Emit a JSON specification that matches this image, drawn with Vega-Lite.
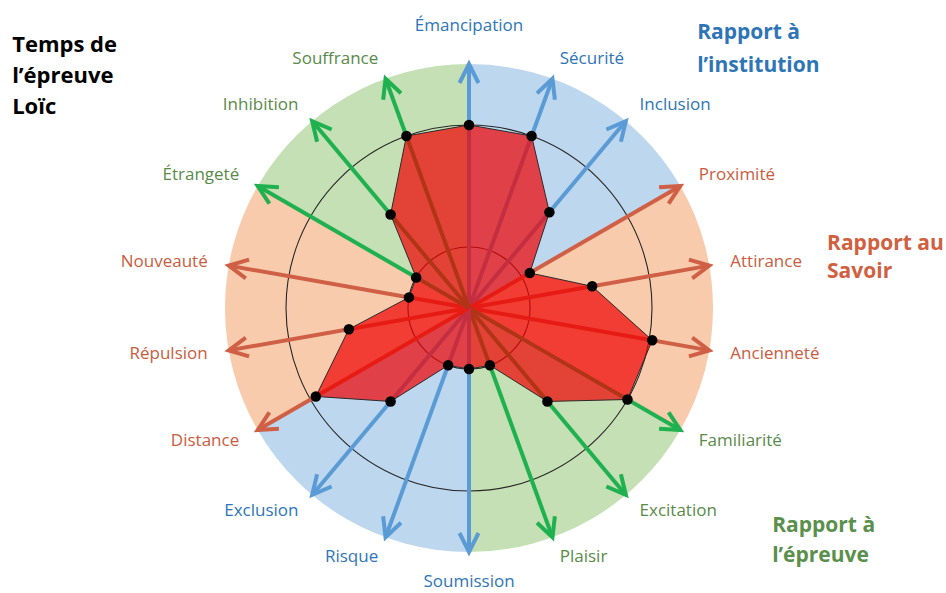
{
  "$schema": "https://vega.github.io/schema/vega-lite/v6.json",
  "width": 946,
  "height": 593,
  "autosize": {"type": "none"},
  "padding": 0,
  "background": "white",
  "config": {"view": {"stroke": null}, "text": {"font": "Open Sans"}},
  "datasets": {
    "axes": [
      {"name": "Émancipation", "angle": 0, "value": 3.0, "grp": "inst"},
      {"name": "Sécurité", "angle": 20, "value": 3.0, "grp": "inst"},
      {"name": "Inclusion", "angle": 40, "value": 2.05, "grp": "inst"},
      {"name": "Proximité", "angle": 60, "value": 1.15, "grp": "savoir"},
      {"name": "Attirance", "angle": 80, "value": 2.05, "grp": "savoir"},
      {"name": "Ancienneté", "angle": 100, "value": 3.05, "grp": "savoir"},
      {"name": "Familiarité", "angle": 120, "value": 3.0, "grp": "epreuve"},
      {"name": "Excitation", "angle": 140, "value": 2.0, "grp": "epreuve"},
      {"name": "Plaisir", "angle": 160, "value": 1.0, "grp": "epreuve"},
      {"name": "Soumission", "angle": 180, "value": 1.0, "grp": "inst"},
      {"name": "Risque", "angle": 200, "value": 1.0, "grp": "inst"},
      {"name": "Exclusion", "angle": 220, "value": 2.0, "grp": "inst"},
      {"name": "Distance", "angle": 240, "value": 2.9, "grp": "savoir"},
      {"name": "Répulsion", "angle": 260, "value": 2.0, "grp": "savoir"},
      {"name": "Nouveauté", "angle": 280, "value": 1.0, "grp": "savoir"},
      {"name": "Étrangeté", "angle": 300, "value": 1.0, "grp": "epreuve"},
      {"name": "Inhibition", "angle": 320, "value": 2.0, "grp": "epreuve"},
      {"name": "Souffrance", "angle": 340, "value": 3.0, "grp": "epreuve"}
    ],
    "sectors": [
      {"s": 1, "grp": "inst", "w": 1},
      {"s": 2, "grp": "savoir", "w": 1},
      {"s": 3, "grp": "epreuve", "w": 1},
      {"s": 4, "grp": "inst", "w": 1},
      {"s": 5, "grp": "savoir", "w": 1},
      {"s": 6, "grp": "epreuve", "w": 1}
    ],
    "rings": [{"r": 1}, {"r": 3}]
  },
  "resolve": {"scale": {"color": "independent", "fill": "independent"}},
  "layer": [
    {
      "data": {"name": "sectors"},
      "mark": {"type": "arc", "strokeWidth": 0},
      "encoding": {
        "x": {"datum": 0, "type": "quantitative", "scale": {"domain": [-7.689, 7.82], "nice": false, "zero": false}, "axis": null},
        "y": {"datum": 0, "type": "quantitative", "scale": {"domain": [-4.672, 5.049], "nice": false, "zero": false}, "axis": null},
        "theta": {"field": "w", "type": "quantitative", "stack": true},
        "order": {"field": "s", "type": "quantitative"},
        "radius": {"datum": 4, "type": "quantitative", "scale": {"type": "linear", "domain": [0, 4], "range": [0, 244], "zero": true}},
        "fill": {"field": "grp", "type": "nominal", "scale": {"domain": ["inst", "savoir", "epreuve"], "range": ["#bdd7ee", "#f8cbad", "#c5e0b4"]}, "legend": null}
      }
    },
    {
      "data": {"name": "rings"},
      "mark": {"type": "arc", "theta": 0, "theta2": 6.2832, "filled": false, "fill": null, "stroke": "#262626", "strokeWidth": 1.1},
      "encoding": {
        "x": {"datum": 0, "type": "quantitative"},
        "y": {"datum": 0, "type": "quantitative"},
        "radius": {"field": "r", "type": "quantitative", "stack": null, "scale": {"type": "linear", "domain": [0, 4], "range": [0, 244], "zero": true}}
      }
    },
    {
      "data": {"name": "axes"},
      "transform": [
        {"calculate": "0", "as": "cx"},
        {"calculate": "4*sin(datum.angle*PI/180)", "as": "tx"},
        {"calculate": "4*cos(datum.angle*PI/180)", "as": "ty"}
      ],
      "mark": {"type": "rule", "strokeWidth": 4},
      "encoding": {
        "x": {"field": "cx", "type": "quantitative"},
        "y": {"field": "cx", "type": "quantitative"},
        "x2": {"field": "tx"},
        "y2": {"field": "ty"},
        "color": {"field": "grp", "type": "nominal", "scale": {"domain": ["inst", "savoir", "epreuve"], "range": ["#5b9bd5", "#cf5f45", "#1fb04f"]}, "legend": null}
      }
    },
    {
      "data": {"name": "axes"},
      "transform": [
        {"calculate": "4*sin(datum.angle*PI/180)", "as": "tx"},
        {"calculate": "4*cos(datum.angle*PI/180)", "as": "ty"}
      ],
      "mark": {"type": "point", "shape": "M-0.5,1L0,0L0.5,1", "filled": false, "size": 1444, "strokeWidth": 4, "opacity": 1},
      "encoding": {
        "x": {"field": "tx", "type": "quantitative"},
        "y": {"field": "ty", "type": "quantitative"},
        "angle": {"field": "angle", "type": "quantitative", "scale": {"domain": [0, 360], "range": [0, 360]}},
        "color": {"field": "grp", "type": "nominal", "scale": {"domain": ["inst", "savoir", "epreuve"], "range": ["#5b9bd5", "#cf5f45", "#1fb04f"]}, "legend": null}
      }
    },
    {
      "data": {"name": "axes"},
      "transform": [
        {"calculate": "datum.value*sin(datum.angle*PI/180)", "as": "px"},
        {"calculate": "datum.value*cos(datum.angle*PI/180)", "as": "py"}
      ],
      "mark": {"type": "line", "interpolate": "linear-closed", "fill": "#f00000", "fillOpacity": 0.7, "stroke": "#2a2a2a", "strokeWidth": 1},
      "encoding": {
        "x": {"field": "px", "type": "quantitative"},
        "y": {"field": "py", "type": "quantitative"},
        "order": {"field": "angle", "type": "quantitative"}
      }
    },
    {
      "data": {"name": "axes"},
      "transform": [
        {"calculate": "datum.value*sin(datum.angle*PI/180)", "as": "px"},
        {"calculate": "datum.value*cos(datum.angle*PI/180)", "as": "py"}
      ],
      "mark": {"type": "point", "shape": "circle", "filled": true, "color": "#000000", "size": 110, "opacity": 1},
      "encoding": {
        "x": {"field": "px", "type": "quantitative"},
        "y": {"field": "py", "type": "quantitative"}
      }
    },
    {
      "data": {"name": "axes"},
      "transform": [
        {"filter": "datum.angle > 0 && datum.angle < 180"},
        {"calculate": "4.35*sin(datum.angle*PI/180)", "as": "lx"},
        {"calculate": "4.35*cos(datum.angle*PI/180)", "as": "ly"}
      ],
      "mark": {"type": "text", "align": "left", "baseline": "middle", "fontSize": 17},
      "encoding": {
        "x": {"field": "lx", "type": "quantitative"},
        "y": {"field": "ly", "type": "quantitative"},
        "text": {"field": "name"},
        "color": {"field": "grp", "type": "nominal", "scale": {"domain": ["inst", "savoir", "epreuve"], "range": ["#2e75b6", "#c95c40", "#5a8a4a"]}, "legend": null}
      }
    },
    {
      "data": {"name": "axes"},
      "transform": [
        {"filter": "datum.angle > 180"},
        {"calculate": "4.35*sin(datum.angle*PI/180)", "as": "lx"},
        {"calculate": "4.35*cos(datum.angle*PI/180)", "as": "ly"}
      ],
      "mark": {"type": "text", "align": "right", "baseline": "middle", "fontSize": 17},
      "encoding": {
        "x": {"field": "lx", "type": "quantitative"},
        "y": {"field": "ly", "type": "quantitative"},
        "text": {"field": "name"},
        "color": {"field": "grp", "type": "nominal", "scale": {"domain": ["inst", "savoir", "epreuve"], "range": ["#2e75b6", "#c95c40", "#5a8a4a"]}, "legend": null}
      }
    },
    {
      "data": {"name": "axes"},
      "transform": [
        {"filter": "datum.angle == 0"},
        {"calculate": "4.35*sin(datum.angle*PI/180)", "as": "lx"},
        {"calculate": "4.35*cos(datum.angle*PI/180)", "as": "ly"}
      ],
      "mark": {"type": "text", "align": "center", "baseline": "alphabetic", "dy": -12, "fontSize": 17},
      "encoding": {
        "x": {"field": "lx", "type": "quantitative"},
        "y": {"field": "ly", "type": "quantitative"},
        "text": {"field": "name"},
        "color": {"field": "grp", "type": "nominal", "scale": {"domain": ["inst", "savoir", "epreuve"], "range": ["#2e75b6", "#c95c40", "#5a8a4a"]}, "legend": null}
      }
    },
    {
      "data": {"name": "axes"},
      "transform": [
        {"filter": "datum.angle == 180"},
        {"calculate": "4.35*sin(datum.angle*PI/180)", "as": "lx"},
        {"calculate": "4.35*cos(datum.angle*PI/180)", "as": "ly"}
      ],
      "mark": {"type": "text", "align": "center", "baseline": "top", "dy": 1, "fontSize": 17},
      "encoding": {
        "x": {"field": "lx", "type": "quantitative"},
        "y": {"field": "ly", "type": "quantitative"},
        "text": {"field": "name"},
        "color": {"field": "grp", "type": "nominal", "scale": {"domain": ["inst", "savoir", "epreuve"], "range": ["#2e75b6", "#c95c40", "#5a8a4a"]}, "legend": null}
      }
    },
    {
      "data": {"values": [{}]},
      "mark": {"type": "text", "align": "left", "baseline": "alphabetic", "fontSize": 22, "fontWeight": "bold", "lineHeight": 31, "color": "#000000"},
      "encoding": {
        "x": {"datum": -7.49, "type": "quantitative"},
        "y": {"datum": 4.197, "type": "quantitative"},
        "text": {"value": ["Temps  de", "l’épreuve", "Loïc"]}
      }
    },
    {
      "data": {"values": [{}]},
      "mark": {"type": "text", "align": "left", "baseline": "alphabetic", "fontSize": 21, "fontWeight": "bold", "lineHeight": 33, "color": "#2e75b6"},
      "encoding": {
        "x": {"datum": 3.74, "type": "quantitative"},
        "y": {"datum": 4.41, "type": "quantitative"},
        "text": {"value": ["Rapport à", "l’institution"]}
      }
    },
    {
      "data": {"values": [{}]},
      "mark": {"type": "text", "align": "left", "baseline": "alphabetic", "fontSize": 21, "fontWeight": "bold", "lineHeight": 28, "color": "#d0603f"},
      "encoding": {
        "x": {"datum": 5.87, "type": "quantitative"},
        "y": {"datum": 0.95, "type": "quantitative"},
        "text": {"value": ["Rapport au", "Savoir"]}
      }
    },
    {
      "data": {"values": [{}]},
      "mark": {"type": "text", "align": "left", "baseline": "alphabetic", "fontSize": 21, "fontWeight": "bold", "lineHeight": 30, "color": "#5a8f4c"},
      "encoding": {
        "x": {"datum": 4.97, "type": "quantitative"},
        "y": {"datum": -3.67, "type": "quantitative"},
        "text": {"value": ["Rapport à", "l’épreuve"]}
      }
    }
  ]
}
